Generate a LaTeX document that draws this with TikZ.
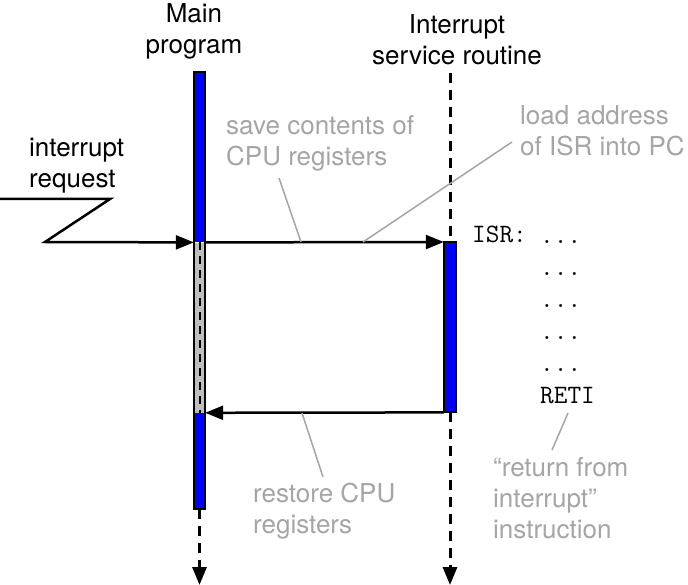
\documentclass[tikz,border=0pt]{standalone}
\usepackage{fontspec}
\setmainfont{TeX Gyre Heros}
\usetikzlibrary{arrows.meta}

\definecolor{runblue}{RGB}{0,0,255}
\definecolor{savedgray}{RGB}{190,190,190}
\definecolor{notegray}{RGB}{165,165,165}

\begin{document}
\begin{tikzpicture}[x=1pt,y=-1pt,
  lbl/.style={font=\fontsize{26}{31}\selectfont, inner sep=0pt},
  note/.style={lbl, text=notegray},
  code/.style={font=\ttfamily\fontsize{26.5}{32}\selectfont, inner sep=0pt},
  leader/.style={draw=notegray, line width=1.5pt},
  tip/.style={-{Triangle[length=18pt,width=14pt]}},
  flow/.style={line width=2.5pt, tip},
  lifeline/.style={line width=3pt, dash pattern=on 10pt off 7pt},
  bar/.style={inner sep=0pt, minimum width=11pt, draw=none},
]
\useasboundingbox (0,0) rectangle (688,585);

% column headings (anchored at the baseline of their last line)
\node[lbl, align=center, anchor=base] (mainlbl) at (194,54) {Main\\program};
\node[lbl, align=center, anchor=base] (isrlbl) at (457,65) {Interrupt\\service routine};

% main program activity bar: running, suspended, running
\node[bar, fill=runblue,   minimum height=170pt, anchor=north] (mainA) at (199.5,72) {};
\node[bar, fill=savedgray, minimum height=170pt, anchor=north] (mainB) at (mainA.south) {};
\node[bar, fill=runblue,   minimum height=96pt,  anchor=north] (mainC) at (mainB.south) {};
\draw[line width=2pt] (mainB.north) -- (mainB.south) [dash pattern=on 8pt off 6pt];
\draw[line width=2pt] (mainA.north west) rectangle (mainC.south east);

% interrupt service routine bar
\node[bar, fill=runblue, minimum width=12pt, minimum height=170pt, anchor=north] (isr) at (450,242) {};
\draw[line width=2pt] (isr.north west) rectangle (isr.south east);

% lifelines
\coordinate (isrtop) at (450,73);
\coordinate (mainend) at (199.5,585);
\coordinate (isrend) at (450,585);
\draw[lifeline] (isrtop) -- (isr.north);
\draw[lifeline, tip] (mainC.south) -- (mainend);
\draw[lifeline, tip] (isr.south) -- (isrend);

% interrupt request and control transfers
\coordinate (irq) at (0,199);
\draw[flow] (irq) -- (110,199) -- (45,242) -- (mainA.south west);
\draw[flow] (mainA.south east) -- (isr.north west);
\draw[flow] (isr.south west) -- (mainB.south east);

\node[lbl, align=left, anchor=base west] (irqlbl) at (29,188) {interrupt\\request};

% ISR listing
\node[code, anchor=base west] (isrtag) at (472,243) {ISR:};
\node[code, align=left, anchor=base west] (body) at (540,403) {...\\...\\...\\...\\...\\RETI};

% annotations
\node[note, align=left, anchor=base west] (save) at (226,166) {save contents of\\CPU registers};
\node[note, align=left, anchor=base west] (load) at (520,156) {load address\\of ISR into PC};
\node[note, align=left, anchor=base west] (restore) at (253,533) {restore CPU\\registers};
\node[note, align=left, anchor=base west] (reti) at (493,538) {“return from\\interrupt”\\instruction};

\coordinate (saveA) at (279,178);  \coordinate (saveB) at (301,242);
\coordinate (loadA) at (512,142);  \coordinate (loadB) at (363,242);
\coordinate (restA) at (323,477);  \coordinate (restB) at (302,413);
\coordinate (retiA) at (568,413);  \coordinate (retiB) at (552,450);
\draw[leader] (saveA) -- (saveB);
\draw[leader] (loadA) -- (loadB);
\draw[leader] (restA) -- (restB);
\draw[leader] (retiA) -- (retiB);
\end{tikzpicture}
\end{document}
